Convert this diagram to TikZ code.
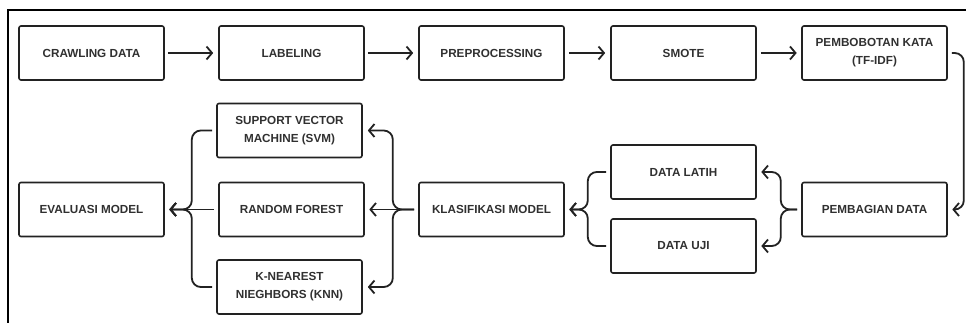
\documentclass[tikz,border=0pt]{standalone}
\usepackage{fontspec}
\setmainfont{Liberation Sans}
\usetikzlibrary{arrows.meta,calc}
\definecolor{ink}{HTML}{222222}
\definecolor{txt}{HTML}{303030}
\tikzset{
  stepbox/.style={draw=ink, line width=1.6pt, rounded corners=2pt,
    minimum width=145pt, minimum height=54pt, inner sep=0pt, align=center,
    text=txt, font=\bfseries\fontsize{11.7}{18}\selectfont},
  link/.style={draw=ink, line width=1.8pt,
    -{Straight Barb[length=5.5pt,width=13pt,line width=1.8pt]},
    shorten <=4pt, shorten >=4.5pt},
  bracelink/.style={link, rounded corners=9pt},
}
\begin{document}
\begin{tikzpicture}[x=1pt,y=-1pt]
\useasboundingbox (0,0) rectangle (966,323);
% outer frame (top and left edges)
\draw[black, line width=2pt] (966,10) -- (8,10) -- (8,323);

% first row
\node[stepbox] (crawl) at (91.5,53)  {CRAWLING DATA};
\node[stepbox] (label) at (291.5,53) {LABELING};
\node[stepbox] (prep)  at (491.5,53) {PREPROCESSING};
\node[stepbox] (smote) at (683.5,53) {SMOTE};
\node[stepbox] (tfidf) at (874.5,53) {PEMBOBOTAN KATA\\(TF-IDF)};

% second row
\node[stepbox] (split) at (874.5,209.5) {PEMBAGIAN DATA};
\node[stepbox] (train) at (683.5,172)   {DATA LATIH};
\node[stepbox] (test)  at (683.5,246)   {DATA UJI};
\node[stepbox] (klas)  at (491.5,209.5) {KLASIFIKASI MODEL};
\node[stepbox] (svm)   at (289.5,130.5) {SUPPORT VECTOR\\MACHINE (SVM)};
\node[stepbox] (rf)    at (291.5,209.5) {RANDOM FOREST};
\node[stepbox] (knn)   at (289.5,287)   {K-NEAREST\\NIEGHBORS (KNN)};
\node[stepbox] (eval)  at (91.5,209.5)  {EVALUASI MODEL};

% straight arrows along the first row
\draw[link, shorten <=3pt, shorten >=5pt] (crawl) -- (label);
\draw[link, shorten <=3pt, shorten >=5pt] (label) -- (prep);
\draw[link, shorten >=5pt] (prep) -- (smote);
\draw[link] (smote) -- (tfidf);

% down the right side into the split step
\draw[bracelink] (tfidf.east) -| ([xshift=16pt]split.east) -- (split.east);

% split into training and test data
\draw[bracelink] (split.west) -| ([xshift=24pt]train.east) -- (train.east);
\draw[bracelink] (split.west) -| ([xshift=24pt]test.east) -- (test.east);

% both sets feed the classification step
\draw[bracelink] (train.west) -| ([xshift=23pt]klas.east) -- (klas.east);
\draw[bracelink] (test.west) -| ([xshift=23pt]klas.east) -- (klas.east);

% classification into the three models
\draw[bracelink, shorten >=5pt] (klas.west) -| ([xshift=30pt]svm.east) -- (svm.east);
\draw[link] (klas.west) -- (rf.east);
\draw[bracelink, shorten >=5pt] (klas.west) -| ([xshift=30pt]knn.east) -- (knn.east);

% the three models into evaluation
\draw[bracelink] (svm.west) -| ([xshift=27pt]eval.east) -- (eval.east);
\draw[link] (rf.west) -- (eval.east);
\draw[bracelink] (knn.west) -| ([xshift=27pt]eval.east) -- (eval.east);
\end{tikzpicture}
\end{document}
